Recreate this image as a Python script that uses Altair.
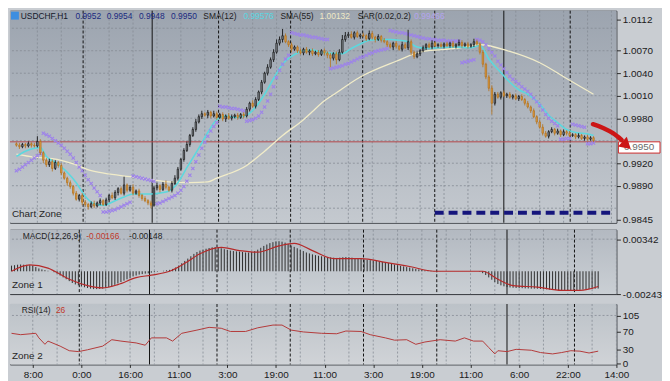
import altair as alt
import pandas as pd

# ---------------- data (prices in pips = 1e-4) ----------------
first_open = 9946
close_pips = [
    9944, 9942, 9945, 9943, 9946, 9944, 9943, 9949,
    9934, 9924, 9918,
    9922, 9913, 9921, 9917,
    9907, 9900, 9894, 9889,
    9880, 9872, 9877, 9868,
    9865, 9862, 9866, 9863, 9867, 9870, 9865,
    9871, 9877, 9874, 9881, 9886, 9880, 9891,
    9884, 9888, 9880, 9883, 9877,
    9873, 9870, 9867, 9864,
    9887, 9890, 9885, 9892, 9888, 9884, 9893,
    9900, 9912, 9925, 9937, 9945, 9957, 9965, 9975,
    9982, 9986, 9984, 9988, 9983, 9986, 9981, 9985, 9979, 9983, 9980, 9982, 9984, 9981, 9985, 9983,
    9992, 10000, 9996, 10005,
    10015, 10028, 10040, 10048,
    10058, 10068, 10080,
    10085, 10090, 10082, 10078, 10072, 10075,
    10070, 10067, 10072, 10068, 10070, 10066,
    10068, 10065, 10070, 10067, 10064,
    10060, 10066, 10058, 10068,
    10085, 10090,
    10092, 10088, 10094, 10089, 10091,
    10090, 10086, 10093, 10088, 10085, 10089, 10084, 10082,
    10078, 10075, 10080, 10076, 10072, 10078, 10074, 10082,
    10068, 10062, 10066, 10070,
    10074, 10078, 10075, 10080, 10077,
    10078, 10076, 10079, 10077, 10080, 10076, 10078, 10081, 10077, 10079, 10076, 10078, 10082, 10079,
    10068, 10052, 10035, 10020, 10000, 10012,
    10008, 10014, 10010, 10012, 10008, 10010, 10006, 10009, 10005,
    10000, 9995, 9990, 9982, 9975, 9968, 9960, 9956,
    9962, 9965, 9960, 9963, 9958, 9962, 9960, 9957,
    9958, 9955, 9957, 9953, 9955, 9952, 9954, 9950,
]
wick_up = [
    2, 3, 2, 2, 3, 2, 3, 7,
    3, 2, 3,
    4, 3, 3, 2,
    3, 2, 2, 3,
    2, 3, 2, 3,
    3, 2, 3, 4, 2, 3, 2,
    3, 2, 4, 3, 2, 3, 11,
    2, 3, 4, 2, 3,
    2, 3, 2, 3,
    3, 4, 2, 3, 5, 2, 3,
    4, 3, 2, 3, 4, 2, 3, 4,
    3, 4, 2, 3, 2, 4, 3, 2, 3, 2, 4, 3, 2, 3, 2, 3,
    3, 2, 4, 3,
    2, 3, 2, 4,
    3, 4, 5,
    4, 9, 3, 2, 3, 2,
    2, 3, 2, 3, 2, 3,
    2, 3, 2, 3, 2,
    3, 2, 3, 4,
    6, 5,
    3, 4, 2, 3, 2,
    3, 2, 4, 3, 2, 3, 2, 3,
    2, 3, 2, 3, 2, 4, 3, 16,
    3, 2, 3, 2,
    3, 2, 3, 4, 2,
    2, 3, 2, 3, 2, 3, 2, 4, 3, 2, 3, 2, 4, 3,
    2, 3, 2, 3, 4, 3,
    3, 2, 3, 2, 3, 2, 3, 2, 3,
    2, 3, 2, 3, 2, 3, 4, 3,
    2, 3, 2, 3, 2, 3, 2, 3,
    2, 2, 3, 2, 2, 3, 2, 2,
]
wick_dn = [
    2, 3, 2, 3, 2, 3, 2, 2,
    3, 4, 3,
    3, 4, 2, 3,
    3, 2, 4, 3,
    3, 2, 3, 4,
    3, 4, 2, 3, 2, 3, 2,
    2, 3, 2, 3, 4, 2, 3,
    3, 2, 3, 2, 3,
    3, 2, 3, 4,
    2, 3, 4, 2, 3, 2, 3,
    2, 3, 2, 3, 2, 3, 2, 3,
    2, 3, 2, 4, 3, 2, 3, 2, 3, 4, 2, 3, 2, 3, 2, 3,
    2, 3, 2, 3,
    2, 3, 2, 3,
    2, 3, 2,
    3, 4, 2, 3, 4, 2,
    3, 2, 3, 2, 4, 3,
    2, 3, 2, 3, 4,
    12, 3, 6, 2,
    2, 3,
    3, 2, 3, 2, 3,
    2, 3, 2, 3, 4, 2, 3, 2,
    3, 2, 4, 3, 2, 3, 2, 3,
    4, 3, 2, 3,
    2, 3, 2, 3, 2,
    3, 2, 3, 2, 3, 2, 3, 2, 3, 2, 3, 2, 3, 2,
    3, 4, 3, 4, 15, 3,
    2, 3, 2, 3, 2, 3, 2, 3, 2,
    3, 2, 3, 2, 3, 2, 3, 2,
    3, 2, 3, 2, 3, 2, 3, 2,
    2, 3, 2, 2, 3, 2, 2, 2,
]
sar_pips = [
    9910, 9912, 9915, 9918, 9921, 9924, 9927, 9930, 9933,
    9960, 9958, 9956, 9953, 9950, 9947, 9944, 9940, 9936, 9932, 9927, 9921, 9915, 9910, 9904, 9898, 9893, 9887, 9882, 9877,
    9855, 9855, 9856, 9857, 9858, 9860, 9862, 9864, 9866, 9868,
    9903, 9902, 9901, 9900, 9899, 9898, 9897, 9896,
    9866, 9867, 9869, 9871, 9873, 9875, 9877, 9880, 9884, 9889, 9896, 9904, 9913, 9922, 9931, 9940, 9948, 9956, 9963, 9969, 9974,
    9996, 9995, 9995, 9994, 9993, 9993, 9992, 9991, 9990,
    9976, 9977, 9978, 9980, 9983, 9988, 9995, 10003, 10012, 10022, 10034, 10044, 10052, 10059, 10064,
    10094, 10093, 10092, 10091, 10091, 10090, 10089, 10088, 10088, 10087, 10086, 10085, 10085,
    10046, 10047, 10048, 10049, 10050, 10052, 10053, 10055, 10057, 10059, 10061, 10062, 10064, 10066, 10067, 10069, 10070, 10071, 10072, 10073,
    10097, 10096, 10095, 10094, 10094, 10093, 10092, 10091, 10090, 10089, 10088, 10087, 10086, 10086, 10085, 10085, 10084, 10084, 10084, 10083, 10083, 10083, 10083, 10083,
    10054, 10055, 10056, 10057, 10058,
    10085, 10084, 10082, 10078, 10073, 10068, 10063, 10056, 10051, 10046, 10041, 10036, 10032, 10029, 10026, 10022, 10019, 10016, 10012, 10007,
    10002, 9997, 9991, 9985, 9980, 9976, 9973, 9970, 9952, 9952, 9953, 9953, 9972, 9971, 9970, 9969, 9968, 9946, 9946, 9947,
]
macd_hist = [  # 1e-5 units
    60, 65, 70, 72, 70, 68, 65, 60,
    45, 30, 20, 12, 5, 0, -10,
    -25, -45, -65, -85, -105, -125, -140, -150,
    -160, -170, -178, -185, -190, -190, -188, -185, -180,
    -170, -160, -145, -130, -115, -100, -85, -70, -55, -45,
    -35, -30, -25, -22, -15,
    -10, -5, 0, 5, 10, 15,
    25, 40, 60, 85, 110, 135, 160, 185, 205, 220,
    230, 240, 248, 255, 258, 255,
    245, 235, 226, 220, 215, 212, 210,
    205, 200, 200, 205, 215, 230,
    250, 270, 285, 300, 310, 318,
    320, 315, 305, 290, 275,
    260, 245, 230, 215, 200, 190, 180, 172, 165, 160,
    155, 150, 148, 145, 142, 145, 150, 152, 150, 145, 140,
    135, 130, 125, 122, 118, 115, 110, 105, 100, 95,
    88, 80, 72, 65, 58, 52, 45, 40,
    32, 25, 20, 15, 10, 8, 5, 3,
    2, 1, 0, 0, 0, 0, 0, 0, 0, 0, 0, 0, 0, 0, -5, -20, -40,
    -65, -90, -115, -135, -150, -160, -168,
    -172, -175, -178, -180, -180, -182, -183, -185, -185, -186, -188, -190, -192, -195,
    -198, -200, -202, -205, -205, -207, -205, -203,
    -200, -198, -195, -192, -190, -188, -186, -184,
]
signal_bar = [0, 6, 12, 19, 25, 30, 35, 41, 46, 52, 57, 62, 69, 75, 81, 88, 93, 99, 106, 115,
              123, 131, 139, 155, 160, 165, 173, 181, 187, 193]
signal_val = [0, 68, 34, -85, -152, -176, -142, -68, -41, 0, 85, 186, 254, 220, 203, 270, 298, 220, 135, 135,
              95, 51, 0, 0, -85, -152, -169, -203, -203, -162]
rsi_bar = [0, 3, 8, 9, 11, 12, 16, 19, 22, 25, 30, 33, 36, 41, 44, 46, 51, 53, 56, 61, 65, 69, 72, 77, 81,
           86, 89, 92, 96, 102, 107, 110, 115, 118, 123, 126, 130, 133, 136, 141, 146, 149, 152, 155, 157,
           159, 160, 163, 166, 171, 174, 178, 181, 184, 187, 190, 193]
rsi_val = [66, 63, 66, 56, 42, 49, 38, 28, 26, 30, 38, 52, 49, 45, 40, 56, 56, 49, 66, 73, 79, 77, 70, 70, 78,
           84, 84, 73, 69, 66, 65, 71, 70, 63, 56, 51, 52, 42, 47, 52, 49, 56, 49, 49, 35,
           21, 28, 26, 31, 29, 24, 21, 24, 28, 27, 23, 27]
sma12_bar = [0, 3, 6, 8, 10, 13, 17, 20, 23, 26, 29, 33, 36, 39, 42, 45, 49, 51, 54, 57, 61, 64, 67, 70, 73,
             77, 80, 83, 86, 89, 93, 96, 99, 102, 109, 112, 115, 118, 122, 125, 128, 131, 134, 138, 141,
             147, 152, 155, 158, 162, 165, 168, 171, 175, 178, 181, 184, 187, 191, 193]
sma12_val = [9929, 9936, 9940, 9941, 9929, 9921, 9908, 9894, 9876, 9866, 9864, 9870, 9875, 9879, 9879, 9879,
             9881, 9883, 9894, 9914, 9940, 9961, 9978, 9983, 9981, 9984, 9995, 10012, 10033, 10052, 10065,
             10070, 10071, 10068, 10066, 10073, 10079, 10084, 10085, 10085, 10084, 10082, 10075, 10073,
             10074, 10075, 10074, 10077, 10059, 10041, 10028, 10018, 10012, 9999, 9984, 9974, 9965, 9961,
             9959, 9957]
sma55_bar = [0, 6, 12, 19, 25, 32, 38, 45, 51, 58, 64, 67, 77, 83, 89, 96, 99, 102, 107, 115, 127, 136, 147,
             155, 165, 175, 184, 193]
sma55_val = [9932, 9928, 9926, 9919, 9910, 9905, 9902, 9898, 9895, 9894, 9895, 9900, 9917, 9936, 9957, 9978,
             9989, 10000, 10014, 10035, 10056, 10069, 10073, 10078, 10069, 10054, 10033, 10012]
time_labels = ["8:00", "0:00", "16:00", "11:00", "3:00", "19:00", "11:00", "3:00", "19:00", "11:00",
               "6:00", "22:00", "14:00"]
label_bars = [7, 23, 39, 55, 71, 87, 103, 119, 135, 151, 167, 183, 199]
grid_bars = [7, 15, 23, 31, 39, 47, 55, 63, 71, 79, 87, 95, 103, 111, 119, 127, 135, 143, 151, 159, 167,
             175, 183, 191, 199]
sep_bars = [22.3, 45.4, 67.6, 91.7, 115.8, 139.9, 163.0, 185.2]
sep_solid = [False, True, False, False, False, False, True, False]
price_grid = [9860, 9890, 9920, 9950, 9980, 10010, 10040, 10070, 10100]
price_ticks = [9845, 9890, 9920, 9980, 10010, 10040, 10070, 10112]
bid_price = 9948.5
box_top, box_bot, box_mid, box_label = 9948.5, 9933.5, 9941.0, "0.9950"
support_price, support_start, support_end = 9854, 139.9, 199.0
arrow_bar = [192.8, 196.2, 199.5, 202.4]
arrow_val = [9972, 9967, 9960, 9951]
arrow_head_bar, arrow_head_val = 203.6, 9945.5

N = len(close_pips)
assert N == len(wick_up) == len(wick_dn) == len(sar_pips) == len(macd_hist) == 194, (
    N, len(wick_up), len(wick_dn), len(sar_pips), len(macd_hist))

opens = [first_open] + close_pips[:-1]
df = pd.DataFrame({
    "bar": list(range(N)),
    "open": [o / 1e4 for o in opens],
    "close": [c / 1e4 for c in close_pips],
    "high": [(max(o, c) + u) / 1e4 for o, c, u in zip(opens, close_pips, wick_up)],
    "low": [(min(o, c) - d) / 1e4 for o, c, d in zip(opens, close_pips, wick_dn)],
    "sar": [s / 1e4 for s in sar_pips],
    "hist": [h / 1e5 for h in macd_hist],
    "zero": [0.0] * N,
})

# ---------------- layout / style ----------------
W = 612
H_MAIN, H_MACD, H_RSI = 214, 65, 61
FONT = "Liberation Sans"
GRID_C = "#858c95"
XS = alt.Scale(domain=[-0.5, 199.0], nice=False, zero=False)
PS = alt.Scale(domain=[0.98406, 1.01234], nice=False, zero=False)
MS = alt.Scale(domain=[-0.00243, 0.00443], nice=False, zero=False)
RS = alt.Scale(domain=[-2, 130], nice=False, zero=False)
SX = W / 621.0

ax_common = dict(title=None, grid=False, domain=False, tickSize=4, tickColor="#2a2a2a",
                 labelColor="#1a1a1a", labelFont=FONT, labelFontSize=10, labelPadding=2,
                 labelFlush=False, labelOverlap=False)
PAX = alt.Axis(orient="right", values=[v / 1e4 for v in price_ticks], format=".4f", **ax_common)
MAX = alt.Axis(orient="right", values=[-0.00243, 0.00342],
               labelExpr="replace(format(datum.value, '.5f'), '\u2212', '-')", **ax_common)
RAX = alt.Axis(orient="right", values=[0, 30, 70, 105], **ax_common)
lab_js = "[" + ",".join("'%s'" % t for t in time_labels) + "]"
bars_js = "[" + ",".join(str(b) for b in label_bars) + "]"
XAX = alt.Axis(values=label_bars, labelExpr="%s[indexof(%s, datum.value)]" % (lab_js, bars_js),
               title=None, grid=False, domain=False, tickSize=3, tickColor="#2a2a2a",
               labelColor="#1a1a1a", labelFont=FONT, labelFontSize=10, labelPadding=2,
               labelFlush=False, labelOverlap=False)

one = alt.Data(values=[{"k": 0}])
BULL = "datum.close >= datum.open"


def XF(field, axis=None):
    return alt.X(f"{field}:Q", scale=XS, axis=axis)


def bg(h, c0, c1):
    grad = alt.Gradient(gradient="linear", x1=0, x2=0, y1=0, y2=1,
                        stops=[alt.GradientStop(offset=0, color=c0), alt.GradientStop(offset=1, color=c1)])
    return alt.Chart(one).mark_rect(color=grad).encode(
        x=alt.value(0), x2=alt.value(W), y=alt.value(0), y2=alt.value(h))


def txt(s, x, y, color, size=8.5, align="left"):
    return alt.Chart(one).mark_text(text=s, align=align, baseline="middle", font=FONT,
                                    fontSize=size, color=color).encode(x=alt.value(x), y=alt.value(y))


def vlines(xaxis=None):
    sep_df = pd.DataFrame({"bar": sep_bars, "solid": sep_solid})
    g = alt.Chart(pd.DataFrame({"bar": grid_bars})).mark_rule(
        color=GRID_C, strokeDash=[2, 2], strokeWidth=1, opacity=0.8).encode(x=XF("bar", xaxis))
    d = alt.Chart(sep_df).transform_filter("!datum.solid").mark_rule(
        color="#121212", strokeDash=[3, 2], strokeWidth=1).encode(x=XF("bar", xaxis))
    s = alt.Chart(sep_df).transform_filter("datum.solid").mark_rule(
        color="#121212", strokeWidth=1).encode(x=XF("bar", xaxis))
    return [g, d, s]


def hline(vals, yfield_scale, axis):
    return alt.Chart(pd.DataFrame({"v": vals})).mark_rule(
        color=GRID_C, strokeDash=[2, 2], strokeWidth=1, opacity=0.8).encode(
        y=alt.Y("v:Q", scale=yfield_scale, axis=axis))


def PY(field):
    return alt.Y(f"{field}:Q", scale=PS, axis=PAX)


# ---------------- main price panel ----------------
base = alt.Chart(df)
layers = [bg(H_MAIN, "#9ca4af", "#c4c9cf"), hline([p / 1e4 for p in price_grid], PS, PAX)]
layers += vlines()
layers.append(alt.Chart(pd.DataFrame({"p": [bid_price / 1e4]})).mark_rule(
    color="#b4474a", strokeWidth=1).encode(y=PY("p")))
layers.append(alt.Chart(pd.DataFrame({"bar": sma55_bar, "p": [v / 1e4 for v in sma55_val]})).mark_line(
    color="#f1ecc9", strokeWidth=1.3, interpolate="monotone").encode(x=XF("bar"), y=PY("p")))
layers.append(alt.Chart(pd.DataFrame({"bar": sma12_bar, "p": [v / 1e4 for v in sma12_val]})).mark_line(
    color="#5cd8de", strokeWidth=1.6, interpolate="monotone").encode(x=XF("bar"), y=PY("p")))
layers.append(base.mark_point(shape="M-1,-1L1,1M-1,1L1,-1", size=11, strokeWidth=1.1, filled=False,
                              color="#9d82ea", opacity=1).encode(x=XF("bar"), y=PY("sar")))
layers.append(base.mark_rule(strokeWidth=0.9).encode(
    x=XF("bar"), y=PY("low"), y2="high",
    color=alt.condition(BULL, alt.value("#141414"), alt.value("#b5782c"))))
layers.append(base.mark_bar(size=1.5, strokeWidth=0.7).encode(
    x=XF("bar"), y=PY("open"), y2="close",
    fill=alt.condition(BULL, alt.value("#8a9098"), alt.value("#e0a045")),
    stroke=alt.condition(BULL, alt.value("#141414"), alt.value("#b0701f"))))
sup_df = pd.DataFrame({"b0": [support_start], "b1": [support_end], "p": [support_price / 1e4]})
layers.append(alt.Chart(sup_df).mark_rule(color="#15157c", strokeWidth=4, strokeDash=[9, 5]).encode(
    x=XF("b0"), x2="b1", y=PY("p")))
box_df = pd.DataFrame({"top": [box_top / 1e4], "bot": [box_bot / 1e4], "mid": [box_mid / 1e4],
                       "label": [box_label]})
layers.append(alt.Chart(box_df).mark_rect(fill="white", stroke="#cc2a2a", strokeWidth=1).encode(
    x=alt.value(W + 2), x2=alt.value(W + 44), y=PY("top"), y2="bot"))
layers.append(alt.Chart(box_df).mark_text(font=FONT, fontSize=10, color="#6a6a6a", align="center",
                                          baseline="middle").encode(
    x=alt.value(W + 23), y=PY("mid"), text="label:N"))
layers.append(alt.Chart(pd.DataFrame({"bar": arrow_bar, "p": [v / 1e4 for v in arrow_val],
                                      "o": list(range(len(arrow_bar)))})).mark_line(
    color="#cc1616", strokeWidth=4.5, strokeCap="round", interpolate="monotone").encode(
    x=XF("bar"), y=PY("p"), order="o:Q"))
layers.append(alt.Chart(pd.DataFrame({"bar": [arrow_head_bar], "p": [arrow_head_val / 1e4]})).mark_point(
    shape="triangle", filled=True, size=170, angle=132, color="#cc1616", opacity=1).encode(
    x=XF("bar"), y=PY("p")))
layers.append(alt.Chart(one).mark_rect(color="#3d8ee0").encode(
    x=alt.value(1), x2=alt.value(9), y=alt.value(1), y2=alt.value(9)))
hdr = [("USDCHF,H1", 11, "#14182a"), ("0.9952", 67, "#1b2a80"), ("0.9954", 99, "#1b2a80"),
       ("0.9948", 132, "#1b2a80"), ("0.9950", 165, "#1b2a80"), ("SMA(12)", 198, "#1e1e1e"),
       ("0.99576", 239, "#5ad6e0"), ("SMA(55)", 277, "#1e1e1e"), ("1.00132", 317, "#efe9c4"),
       ("SAR(0.02,0.2)", 356, "#1e1e1e"), ("0.99466", 414, "#b3a3ee")]
for s, x, c in hdr:
    layers.append(txt(s, x * SX, 5.5, c))
layers.append(txt("Chart Zone", 2, H_MAIN - 9, "#262626", size=10))
main = alt.layer(*layers).properties(width=W, height=H_MAIN)

# ---------------- MACD panel ----------------
def MY(field):
    return alt.Y(f"{field}:Q", scale=MS, axis=MAX)


ml = [bg(H_MACD, "#b3b9c1", "#cacfd4"), hline([0.00342], MS, MAX)]
ml += vlines()
ml.append(base.mark_rule(color="#2e2e2e", strokeWidth=1).encode(x=XF("bar"), y=MY("hist"), y2="zero"))
ml.append(alt.Chart(pd.DataFrame({"bar": signal_bar, "v": [v / 1e5 for v in signal_val]})).mark_line(
    color="#b52a2a", strokeWidth=1.2, interpolate="monotone").encode(x=XF("bar"), y=MY("v")))
ml += [txt("MACD(12,26,9)", 13 * SX, 6, "#1e1e1e"), txt("-0.00166", 78 * SX, 6, "#c0392b"),
       txt("-0.00148", 122 * SX, 6, "#1e1e1e"), txt("Zone 1", 2, H_MACD - 9, "#262626", size=10)]
macd = alt.layer(*ml).properties(width=W, height=H_MACD)

# ---------------- RSI panel ----------------
rl = [bg(H_RSI, "#bcc2c8", "#d0d3d7"),
      hline([105], RS, RAX)]
rl += vlines(XAX)
rl.append(alt.Chart(pd.DataFrame({"bar": rsi_bar, "v": rsi_val})).mark_line(
    color="#b33a3a", strokeWidth=1).encode(x=XF("bar", XAX), y=alt.Y("v:Q", scale=RS, axis=RAX)))
rl += [txt("RSI(14)", 12 * SX, 6, "#1e1e1e"), txt("26", 47 * SX, 6, "#c0392b"),
       txt("Zone 2", 2, H_RSI - 8, "#262626", size=10)]
rsi = alt.layer(*rl).properties(width=W, height=H_RSI)

chart = alt.vconcat(main, macd, rsi, spacing=3).properties(
    padding={"left": 0, "top": 0, "right": 0, "bottom": 0}, background="#c9cdd2"
).configure_view(stroke="#34373c", strokeWidth=1)

chart.save("out.html", embed_options={"renderer": "svg", "actions": False})
